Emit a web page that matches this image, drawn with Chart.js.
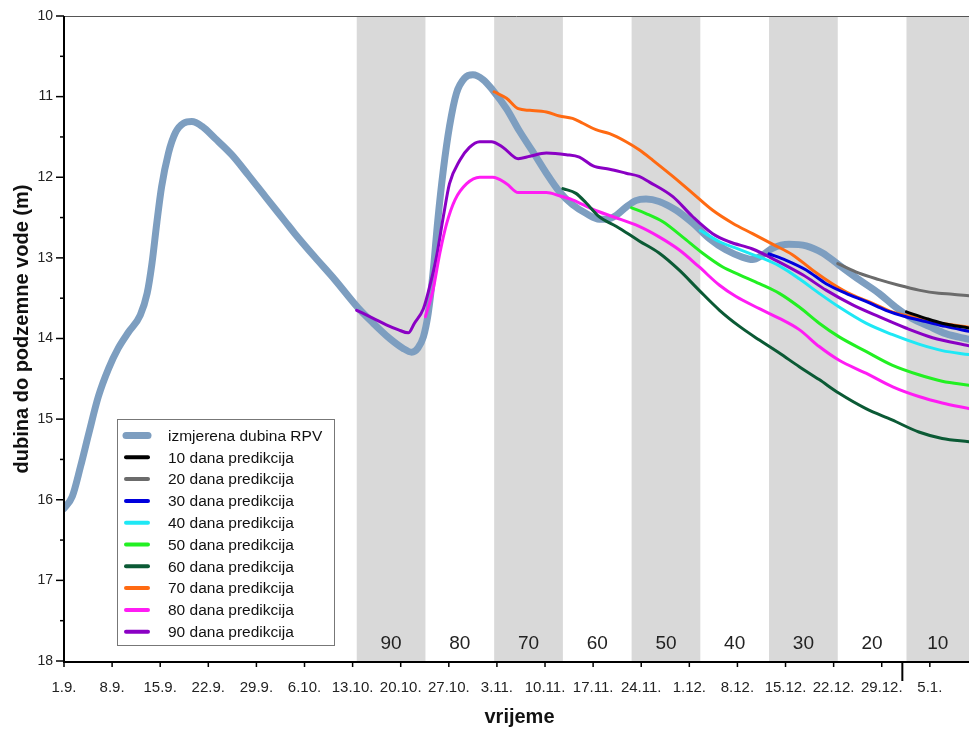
<!DOCTYPE html>
<html>
<head>
<meta charset="utf-8">
<script src="https://cdn.jsdelivr.net/npm/chart.js@4/dist/chart.umd.min.js"></script>
<style>
  html, body { margin: 0; padding: 0; background: #fff; }
  #wrap { width: 969px; height: 731px; position: relative; }
</style>
</head>
<body>
<div id="wrap"><canvas id="c" width="969" height="731"></canvas></div>
<script>
// ---- DATA (x = days since 1.9.) ----
const dateLabels = ['1.9.','8.9.','15.9.','22.9.','29.9.','6.10.','13.10.','20.10.','27.10.','3.11.','10.11.','17.11.','24.11.','1.12.','8.12.','15.12.','22.12.','29.12.','5.1.'];
const dateTickDays = [0,7,14,21,28,35,42,49,56,63,70,77,84,91,98,105,112,119,126];
const yearStartDay = 122;
const horizonLabels = ['90','80','70','60','50','40','30','20','10'];
const horizonStartDays = [42.6,52.6,62.6,72.6,82.6,92.6,102.6,112.6,122.6];
const horizonWidth = 10;

const rpvDays  = [0,1.2,2.4,3.6,5.0,6.5,7.9,9.4,11.1,12.1,12.8,13.5,14.2,15.2,16.2,17.4,18.6,20.1,22.0,24.4,26.8,29.3,32.2,33.6,36.5,39.4,42.8,45.0,47.4,49.3,50.6,51.5,52.3,53.0,53.7,54.4,55.2,56.1,57.1,58.3,59.5,61.0,62.4,64.4,66.3,68.2,70.2,72.1,74.0,76.0,77.9,79.1,80.4,81.8,83.2,84.7,86.6,89.1,91.5,93.9,96.3,98.7,100.2,101.7,103.1,105.5,108.0,110.4,112.8,115.7,118.6,121.0,123.4,125.9,128.3,131.7];
const rpvDepth = [16.11,15.96,15.59,15.18,14.72,14.37,14.12,13.92,13.71,13.44,13.07,12.57,12.12,11.70,11.45,11.33,11.31,11.37,11.52,11.72,11.97,12.24,12.55,12.70,12.99,13.27,13.62,13.81,14.00,14.12,14.17,14.12,13.98,13.69,13.19,12.53,11.91,11.37,10.96,10.77,10.73,10.79,10.92,11.15,11.43,11.68,11.95,12.18,12.34,12.45,12.52,12.52,12.47,12.37,12.29,12.27,12.30,12.41,12.57,12.76,12.90,12.99,13.02,12.96,12.88,12.83,12.85,12.94,13.09,13.27,13.44,13.61,13.75,13.85,13.94,14.01];

const p10Days = [122.6,125.4,127.8,131.7];
const p10Depth = [13.67,13.75,13.81,13.87];
const p20Days = [112.6,115.7,118.6,121.5,124.4,127.3,129.3,131.7];
const p20Depth = [13.07,13.19,13.27,13.34,13.40,13.44,13.45,13.47];
const p30Days = [102.6,105.1,108.0,110.9,113.8,116.7,119.6,122.5,125.4,128.3,131.7];
const p30Depth = [12.95,13.03,13.15,13.32,13.44,13.54,13.65,13.73,13.79,13.85,13.91];
const p40Days = [92.6,95.4,97.8,101.2,104.1,107.0,109.9,112.8,116.7,120.5,124.4,127.8,131.7];
const p40Depth = [12.66,12.80,12.88,12.99,13.10,13.26,13.44,13.61,13.81,13.95,14.07,14.15,14.20];
const p50Days = [82.6,84.7,87.1,90.0,92.9,95.8,98.3,101.2,104.1,107.0,109.9,112.8,116.7,120.5,124.4,127.8,131.7];
const p50Depth = [12.38,12.45,12.55,12.74,12.94,13.11,13.21,13.32,13.44,13.61,13.81,13.98,14.16,14.33,14.45,14.53,14.58];
const p60Days = [72.6,74.5,76.0,77.9,80.4,83.7,86.6,89.5,92.4,95.4,98.3,101.2,104.1,107.0,109.9,112.8,116.7,120.5,124.4,127.8,131.7];
const p60Depth = [12.14,12.20,12.32,12.49,12.61,12.79,12.94,13.15,13.40,13.65,13.85,14.02,14.18,14.35,14.51,14.68,14.87,15.01,15.16,15.24,15.28];
const p70Days = [62.6,64.4,66.1,67.8,70.2,72.1,74.0,75.5,77.4,79.4,81.8,83.7,85.7,88.6,91.5,94.4,97.3,100.2,103.1,106.0,108.9,111.8,114.7,117.6,120.5,123.4,127.0,131.7];
const p70Depth = [10.94,11.02,11.15,11.17,11.19,11.24,11.27,11.33,11.41,11.46,11.56,11.66,11.79,11.99,12.20,12.41,12.57,12.70,12.83,12.96,13.15,13.32,13.46,13.56,13.67,13.73,13.80,13.86];
const p80Days = [52.6,53.7,54.7,55.7,56.9,58.6,60.5,62.4,64.4,66.1,68.2,70.2,72.1,74.0,77.0,79.9,83.7,86.6,89.5,92.4,95.4,97.8,101.2,104.1,107.0,109.9,112.8,116.7,120.6,124.4,127.8,131.7];
const p80Depth = [13.73,13.40,12.94,12.57,12.28,12.08,12.00,12.00,12.08,12.19,12.19,12.19,12.23,12.28,12.40,12.49,12.61,12.74,12.90,13.11,13.34,13.48,13.63,13.75,13.89,14.10,14.27,14.43,14.60,14.72,14.80,14.87];
const p90Days = [42.6,45.0,46.9,48.6,50.1,51.0,52.3,53.2,54.2,55.2,56.1,57.6,59.0,60.5,62.2,63.9,66.1,67.8,70.2,73.1,75.0,77.0,79.4,81.8,83.7,85.2,88.6,91.5,94.4,96.8,100.2,103.6,107.5,110.9,114.7,118.6,122.5,126.4,131.7];
const p90Depth = [13.65,13.75,13.83,13.89,13.93,13.81,13.63,13.36,12.99,12.49,12.08,11.79,11.63,11.56,11.56,11.63,11.77,11.74,11.70,11.72,11.75,11.86,11.90,11.95,11.99,12.06,12.24,12.49,12.70,12.80,12.89,13.03,13.21,13.40,13.58,13.73,13.87,13.99,14.09];

const seriesNames = ['izmjerena dubina RPV','10 dana predikcija','20 dana predikcija','30 dana predikcija','40 dana predikcija','50 dana predikcija','60 dana predikcija','70 dana predikcija','80 dana predikcija','90 dana predikcija'];
const seriesColors = ['#7d9ec0','#000000','#6b6b6b','#0000dd','#1ee8f5','#22f022','#0b5a35','#ff6a12','#ff1cf4','#8a00c4'];

// ---- build ----
function pts(d, v) { return d.map((x, i) => ({x: x, y: v[i]})); }
const allSeries = [
  pts(rpvDays, rpvDepth), pts(p10Days, p10Depth), pts(p20Days, p20Depth), pts(p30Days, p30Depth),
  pts(p40Days, p40Depth), pts(p50Days, p50Depth), pts(p60Days, p60Depth), pts(p70Days, p70Depth),
  pts(p80Days, p80Depth), pts(p90Days, p90Depth)
];
const datasets = allSeries.map((data, i) => ({
  label: seriesNames[i],
  data: data,
  borderColor: seriesColors[i],
  backgroundColor: seriesColors[i],
  borderWidth: i === 0 ? 7 : 3,
  pointRadius: 0,
  cubicInterpolationMode: 'monotone',
  borderCapStyle: 'round',
  borderJoinStyle: 'round',
  fill: false,
  order: i === 0 ? 1 : 0
}));

const FONT = '"Liberation Sans", Arial, sans-serif';

const decor = {
  id: 'decor',
  beforeDatasetsDraw(chart) {
    const ctx = chart.ctx, xs = chart.scales.x, ca = chart.chartArea;
    ctx.save();
    ctx.fillStyle = '#d9d9d9';
    horizonStartDays.forEach((s, i) => {
      if (i % 2 === 0) {
        const x0 = xs.getPixelForValue(s), x1 = Math.min(xs.getPixelForValue(s + horizonWidth), ca.right);
        ctx.fillRect(x0, ca.top, x1 - x0, ca.bottom - ca.top);
      }
    });
    ctx.fillStyle = '#222';
    ctx.font = '19px ' + FONT;
    ctx.textAlign = 'center';
    ctx.textBaseline = 'middle';
    horizonStartDays.forEach((s, i) => {
      const x0 = xs.getPixelForValue(s), x1 = Math.min(xs.getPixelForValue(s + horizonWidth), ca.right);
      ctx.fillText(horizonLabels[i], (x0 + x1) / 2, ca.bottom - 17);
    });
    ctx.restore();
  },
  afterDraw(chart) {
    const ctx = chart.ctx, xs = chart.scales.x, ys = chart.scales.y, ca = chart.chartArea;
    ctx.save();
    // top border
    ctx.strokeStyle = '#555';
    ctx.lineWidth = 1;
    ctx.beginPath(); ctx.moveTo(ca.left, ca.top + 0.5); ctx.lineTo(ca.right, ca.top + 0.5); ctx.stroke();
    // axes
    ctx.strokeStyle = '#000';
    ctx.lineWidth = 2;
    ctx.beginPath(); ctx.moveTo(ca.left, ca.top); ctx.lineTo(ca.left, ca.bottom + 1); ctx.lineTo(ca.right, ca.bottom + 1); ctx.stroke();
    // y ticks
    ctx.lineWidth = 1.5;
    ys.ticks.forEach(t => {
      const y = ys.getPixelForValue(t.value);
      const major = Math.abs(t.value - Math.round(t.value)) < 1e-6;
      ctx.beginPath(); ctx.moveTo(ca.left - (major ? 8 : 4), y); ctx.lineTo(ca.left, y); ctx.stroke();
    });
    // x ticks
    dateTickDays.forEach(d => {
      const x = xs.getPixelForValue(d);
      ctx.beginPath(); ctx.moveTo(x, ca.bottom + 1); ctx.lineTo(x, ca.bottom + 6); ctx.stroke();
    });
    ctx.lineWidth = 2;
    const xy = xs.getPixelForValue(yearStartDay);
    ctx.beginPath(); ctx.moveTo(xy, ca.bottom + 1); ctx.lineTo(xy, ca.bottom + 20); ctx.stroke();
    // axis titles
    ctx.fillStyle = '#111';
    ctx.font = 'bold 20px ' + FONT;
    ctx.textAlign = 'center';
    ctx.textBaseline = 'middle';
    ctx.fillText('vrijeme', (ca.left + ca.right) / 2 + 3, 717);
    ctx.save();
    ctx.translate(22, 329);
    ctx.rotate(-Math.PI / 2);
    ctx.fillText('dubina do podzemne vode (m)', 0, 0);
    ctx.restore();
    // legend
    const bx = 117.5, by = 419.5, bw = 217, bh = 226;
    ctx.fillStyle = '#fff';
    ctx.fillRect(bx, by, bw, bh);
    ctx.strokeStyle = '#777';
    ctx.lineWidth = 1;
    ctx.strokeRect(bx, by, bw, bh);
    ctx.font = '15.5px ' + FONT;
    ctx.textAlign = 'left';
    ctx.textBaseline = 'middle';
    chart.data.datasets.forEach((ds, i) => {
      const y = 435.5 + i * 21.8;
      ctx.strokeStyle = ds.borderColor;
      ctx.lineCap = 'round';
      ctx.lineWidth = i === 0 ? 7 : 4;
      ctx.beginPath();
      ctx.moveTo(126, y); ctx.lineTo(148, y); ctx.stroke();
      ctx.fillStyle = '#111';
      ctx.fillText(ds.label, 168, y + 1);
    });
    ctx.restore();
  }
};

new Chart(document.getElementById('c'), {
  type: 'line',
  data: { datasets: datasets },
  plugins: [decor],
  options: {
    responsive: false,
    animation: false,
    devicePixelRatio: 1,
    layout: { padding: { top: 16, left: 0, right: 0, bottom: 0 } },
    plugins: { legend: { display: false }, tooltip: { enabled: false } },
    scales: {
      x: {
        type: 'linear',
        min: 0,
        max: 131.7,
        afterFit(s) { s.height = 70; s.paddingLeft = 0; s.paddingRight = 0; },
        afterBuildTicks(s) { s.ticks = dateTickDays.map(v => ({ value: v })); },
        grid: { display: false, drawTicks: false },
        border: { display: false },
        ticks: {
          autoSkip: false,
          maxRotation: 0,
          minRotation: 0,
          padding: 18,
          color: '#222',
          font: { family: FONT, size: 15 },
          callback: (v) => { const k = dateTickDays.indexOf(v); return k >= 0 ? dateLabels[k] : ''; }
        }
      },
      y: {
        type: 'linear',
        reverse: true,
        min: 10,
        max: 18,
        afterFit(s) { s.width = 64; s.paddingTop = 0; s.paddingBottom = 0; },
        grid: { display: false, drawTicks: false },
        border: { display: false },
        ticks: {
          stepSize: 0.5,
          padding: 11,
          color: '#222',
          font: { family: FONT, size: 14 },
          callback: (v) => Number.isInteger(v) ? String(v) : ''
        }
      }
    }
  }
});
</script>
</body>
</html>
